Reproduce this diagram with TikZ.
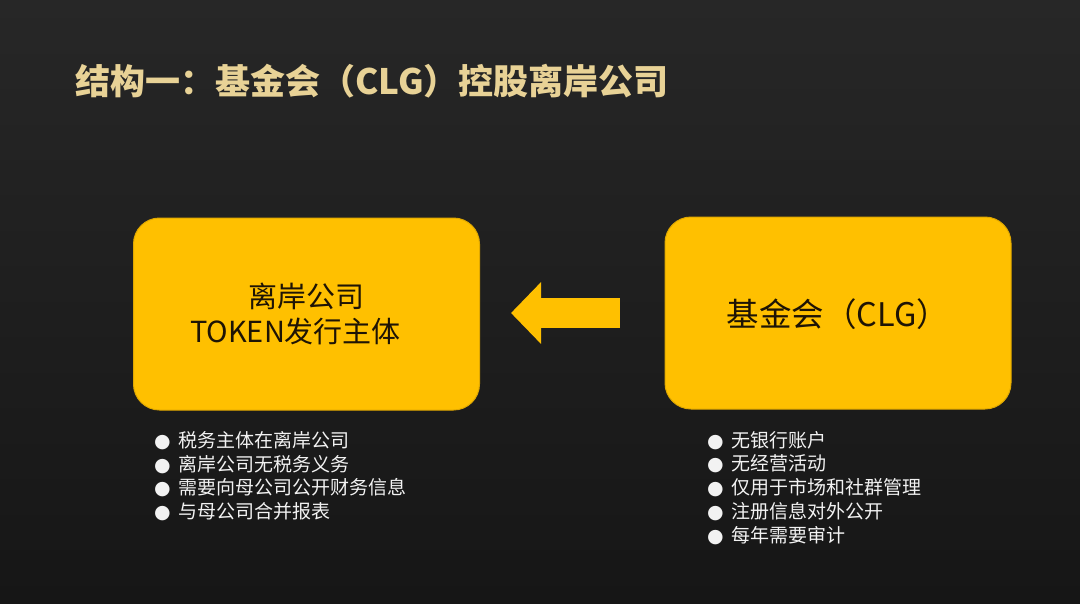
\documentclass[tikz,border=0pt]{standalone}
\usepackage{fontspec}
\setmainfont{Noto Sans CJK SC}
\newfontfamily\symfont{DejaVu Sans}
\usetikzlibrary{arrows.meta,positioning}
\definecolor{bgtop}{HTML}{272727}
\definecolor{bgbot}{HTML}{161616}
\definecolor{gold}{HTML}{FFC000}
\definecolor{golde}{HTML}{E0A800}
\definecolor{ink}{HTML}{1E1405}
\definecolor{tan}{HTML}{E8D296}
\definecolor{note}{HTML}{F2F2F2}
\newcommand\bul{{\symfont ●}\hspace{8pt}}

\begin{document}
\begin{tikzpicture}[x=1pt,y=-1pt,
   title/.style={anchor=base west,inner sep=0pt,text=tan,font=\fontsize{35}{40}\selectfont\bfseries},
   card/.style ={draw=golde,fill=gold,line width=1pt,rounded corners=26pt,minimum width=346pt,minimum height=192pt,text=ink,align=center,font=\fontsize{29}{35}\selectfont},
   notes/.style={anchor=north west,inner sep=0pt,text=note,align=left,font=\fontsize{19}{23.7}\selectfont},
   fl/.style   ={-{Triangle[length=30pt,width=60pt]},draw=gold,line width=30pt,shorten <=45pt,shorten >=31pt}
  ]
  % background
  \shade[top color=bgtop,bottom color=bgbot] (0,0) rectangle (1080,603);
  \useasboundingbox (0,0) rectangle (1080,603);

  % title
  \node[title] (head) at (75,94) {结构一：基金会（CLG）控股离岸公司};

  % cards
  \node[card] (off) at (306.5,314) {离岸公司\\TOKEN发行主体\hspace*{22pt}};
  \node[card,font=\fontsize{32.5}{38}\selectfont,text depth=-6pt] (clg) at (838,313) {基金会（CLG）};

  % notes
  \node[notes] (offn) at (154,431) {\bul 税务主体在离岸公司\\\bul 离岸公司无税务义务\\\bul 需要向母公司公开财务信息\\\bul 与母公司合并报表};
  \node[notes] (clgn) at (707,431) {\bul 无银行账户\\\bul 无经营活动\\\bul 仅用于市场和社群管理\\\bul 注册信息对外公开\\\bul 每年需要审计};

  \draw[fl] (clg.west) -- (clg.west -| off.east);
\end{tikzpicture}
\end{document}
